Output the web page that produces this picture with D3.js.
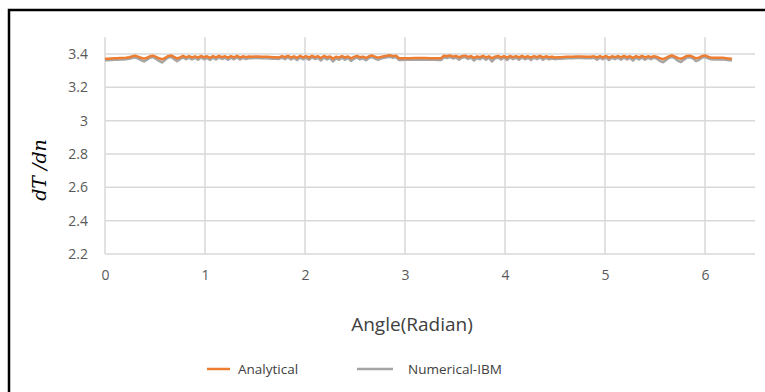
<!DOCTYPE html>
<html>
<head>
<meta charset="utf-8">
<script src="https://cdn.jsdelivr.net/npm/d3@7/dist/d3.min.js"></script>
<style>
  html, body { margin: 0; padding: 0; background: #fff; }
  svg { display: block; }
</style>
</head>
<body>
<svg id="chart" width="765" height="392"></svg>
<script>
// Sample spacing along the angle axis (radians)
const angleStep = 0.03;

// dT/dn around the cylinder surface
const analytical = [
  3.371,3.372,3.373,3.374,3.375,3.376,3.376,3.377,
  3.380,3.385,3.389,3.384,3.377,3.372,3.378,3.386,3.390,3.383,3.374,3.368,3.376,3.387,3.391,3.382,3.373,3.380,3.388,
  3.380,3.387,3.379,3.386,3.378,3.388,3.380,3.386,3.377,3.387,3.379,3.388,3.381,3.386,3.378,3.387,3.380,3.388,3.379,3.386,3.381,3.385,
  3.384,3.385,3.385,3.384,3.384,3.383,3.382,3.381,3.380,3.379,
  3.387,3.381,3.389,3.379,3.386,3.377,3.388,3.380,3.387,3.378,3.389,3.381,3.386,3.376,3.388,3.380,3.385,3.372,3.383,3.378,
  3.387,3.379,3.385,3.374,3.382,3.388,3.380,3.384,3.376,3.386,3.391,3.383,3.378,3.382,3.386,3.389,3.392,3.387,3.390,
  3.374,3.374,3.375,3.375,3.375,3.376,3.376,3.376,3.376,3.376,3.375,3.375,3.375,3.374,3.374,
  3.389,3.386,3.391,3.384,3.388,3.380,3.386,3.390,3.382,3.387,3.377,3.385,3.381,3.388,3.379,3.386,3.374,3.384,3.388,
  3.380,3.387,3.378,3.388,3.381,3.387,3.379,3.388,3.380,3.386,3.378,3.387,3.381,3.388,3.379,3.386,3.380,3.383,3.379,
  3.380,3.381,3.382,3.383,3.384,3.384,3.385,3.385,3.385,3.384,3.384,3.383,
  3.386,3.379,3.387,3.380,3.388,3.378,3.386,3.381,3.387,3.379,3.388,3.380,3.386,3.377,3.387,3.380,3.388,3.379,3.386,3.381,3.387,
  3.382,3.374,3.369,3.377,3.386,3.391,3.384,3.375,3.371,3.379,3.388,3.390,3.383,3.374,3.378,3.387,3.391,3.384,
  3.378,3.377,3.377,3.378,3.377,3.375,3.373,3.370
];

const numericalIBM = [
  3.362,3.363,3.364,3.365,3.366,3.367,3.367,3.368,
  3.371,3.376,3.380,3.373,3.363,3.355,3.366,3.377,3.381,3.371,3.358,3.349,3.363,3.378,3.382,3.370,3.357,3.369,3.379,
  3.369,3.378,3.367,3.377,3.366,3.379,3.368,3.377,3.364,3.378,3.367,3.379,3.370,3.377,3.366,3.378,3.368,3.379,3.367,3.377,3.370,3.376,
  3.375,3.376,3.376,3.375,3.375,3.374,3.373,3.372,3.371,3.370,
  3.378,3.369,3.380,3.367,3.377,3.364,3.379,3.368,3.378,3.365,3.380,3.370,3.377,3.361,3.379,3.367,3.376,3.355,3.373,3.365,
  3.378,3.366,3.376,3.358,3.371,3.379,3.367,3.375,3.362,3.377,3.382,3.372,3.365,3.373,3.377,3.380,3.383,3.377,3.381,
  3.364,3.364,3.365,3.365,3.365,3.366,3.366,3.366,3.366,3.366,3.365,3.365,3.365,3.364,3.364,
  3.380,3.376,3.382,3.373,3.379,3.366,3.377,3.381,3.370,3.378,3.361,3.375,3.368,3.379,3.365,3.377,3.355,3.373,3.379,
  3.367,3.378,3.364,3.379,3.369,3.378,3.366,3.379,3.368,3.377,3.364,3.378,3.369,3.379,3.366,3.377,3.368,3.373,3.369,
  3.371,3.372,3.373,3.374,3.375,3.375,3.376,3.376,3.376,3.375,3.375,3.374,
  3.377,3.366,3.378,3.368,3.379,3.364,3.377,3.369,3.378,3.366,3.379,3.367,3.377,3.361,3.378,3.367,3.379,3.365,3.377,3.369,3.378,
  3.371,3.358,3.350,3.363,3.377,3.382,3.373,3.359,3.352,3.366,3.379,3.381,3.372,3.357,3.365,3.378,3.382,3.374,
  3.368,3.367,3.367,3.368,3.367,3.365,3.363,3.360
];

const xTicks = [0, 1, 2, 3, 4, 5, 6];
const yTicks = [2.2, 2.4, 2.6, 2.8, 3, 3.2, 3.4];
const seriesNames = ["Analytical", "Numerical-IBM"];
const seriesColors = ["#ED7D31", "#A5A5A5"];

const svg = d3.select("#chart");
const font = "'Open Sans', Lato, sans-serif";

// outer frame
svg.append("rect")
  .attr("x", 9).attr("y", 10).attr("width", 800).attr("height", 420)
  .attr("fill", "none").attr("stroke", "#000").attr("stroke-width", 2.5);

const x = d3.scaleLinear().domain([0, 6.5]).range([105, 755]);
const y = d3.scaleLinear().domain([2.2, 3.5]).range([254, 37.3]);

// gridlines
const grid = svg.append("g").attr("stroke", "#d9d9d9").attr("stroke-width", 1.5);
grid.selectAll(".vg").data(xTicks).join("line")
  .attr("x1", d => x(d)).attr("x2", d => x(d))
  .attr("y1", y(3.5)).attr("y2", y(2.2));
grid.selectAll(".hg").data(yTicks).join("line")
  .attr("x1", x(0)).attr("x2", x(6.5))
  .attr("y1", d => y(d)).attr("y2", d => y(d));

// axes (labels only)
const xAxis = svg.append("g")
  .attr("transform", `translate(0,${y(2.2)})`)
  .call(d3.axisBottom(x).tickValues(xTicks).tickSize(0).tickPadding(16).tickFormat(d3.format("d")));
const yAxis = svg.append("g")
  .attr("transform", `translate(${x(0)},0)`)
  .call(d3.axisLeft(y).tickValues(yTicks).tickSize(0).tickPadding(17).tickFormat(d => String(d)));
[xAxis, yAxis].forEach(a => {
  a.select(".domain").remove();
  a.selectAll("text").attr("fill", "#595959").attr("font-size", 14).attr("font-family", font);
});

// series: numerical first so the analytical curve sits on top
const pts = vals => vals.map((v, i) => [i * angleStep, v]);
const line = d3.line().x(d => x(d[0])).y(d => y(d[1]));
[[numericalIBM, seriesColors[1]], [analytical, seriesColors[0]]].forEach(([vals, color]) => {
  svg.append("path")
    .datum(pts(vals))
    .attr("d", line)
    .attr("fill", "none")
    .attr("stroke", color)
    .attr("stroke-width", 2.5)
    .attr("stroke-linejoin", "round");
});

// axis titles
svg.append("text")
  .attr("x", 412).attr("y", 331)
  .attr("text-anchor", "middle")
  .attr("fill", "#404040").attr("font-size", 19).attr("font-family", font)
  .text("Angle(Radian)");

svg.append("text")
  .attr("transform", "translate(46,170) rotate(-90)")
  .attr("text-anchor", "middle")
  .attr("fill", "#000").attr("font-size", 19)
  .attr("font-family", "'DejaVu Serif', serif").attr("font-style", "italic")
  .text("dT /dn");

// legend
const legendX = [207, 357];
const legend = svg.selectAll(".lg").data(seriesNames).join("g")
  .attr("transform", (d, i) => `translate(${legendX[i]},369)`);
legend.append("line")
  .attr("x1", 0).attr("x2", (d, i) => i === 0 ? 23 : 36)
  .attr("stroke", (d, i) => seriesColors[i]).attr("stroke-width", 2.5);
legend.append("text")
  .attr("x", (d, i) => i === 0 ? 31 : 51).attr("y", 0).attr("dy", "0.35em")
  .attr("fill", "#404040").attr("font-size", 13.5).attr("font-family", font)
  .text(d => d);
</script>
</body>
</html>
